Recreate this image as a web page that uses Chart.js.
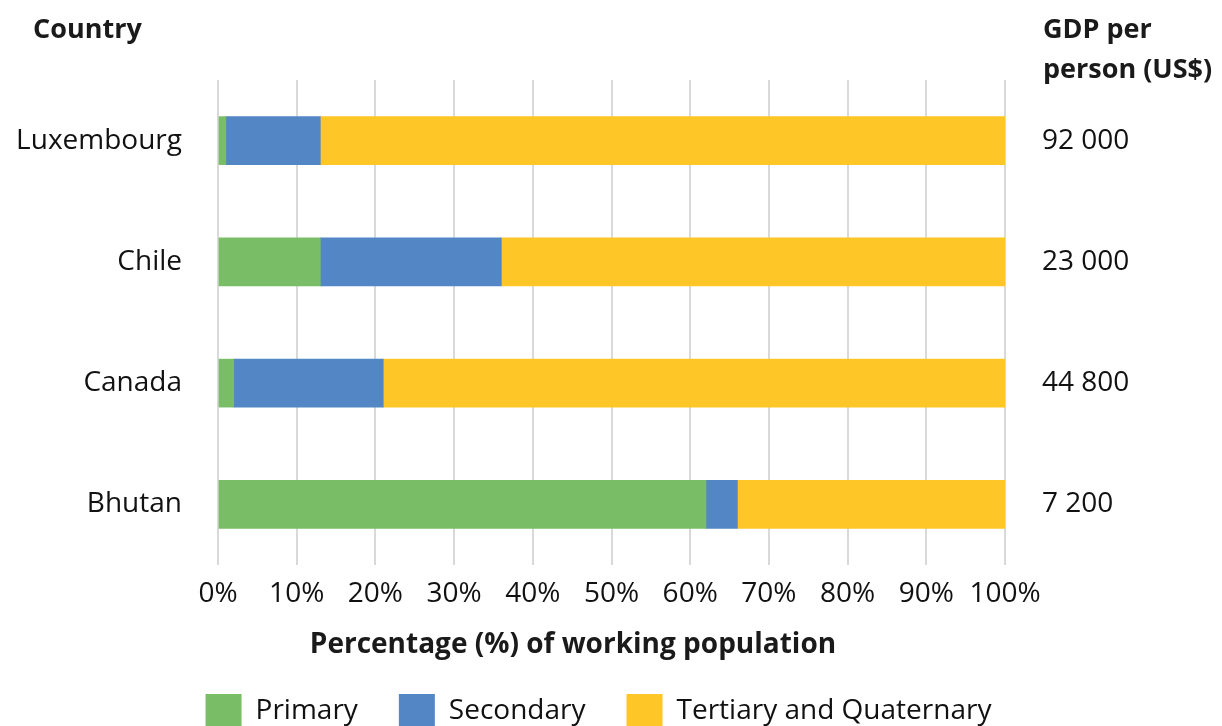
<!DOCTYPE html>
<html lang="en">

<head>
    <meta charset="UTF-8">
    <title>Employment sectors by country</title>
    <script src="https://cdn.jsdelivr.net/npm/chart.js"></script>
    <style>
        html, body { margin: 0; padding: 0; background: #fff; overflow: hidden; }
        body { width: 1222px; height: 726px; position: relative; font-family: "Open Sans", sans-serif; }
        .head { position: absolute; font-weight: bold; font-size: 27px; line-height: 40px; color: #1a1a1a; }
        #country { left: 33px; top: 8px; }
        #gdp { left: 1043px; top: 8px; }
        #titulo-x { left: 0; width: 1146px; top: 622px; text-align: center; font-size: 28px; }
        .box { position: absolute; top: 0; left: 0; width: 1222px; height: 738px; }
    </style>
</head>

<body>
    <div class="box"><canvas id="grafico" width="1222" height="738"></canvas></div>
    <div class="head" id="country">Country</div>
    <div class="head" id="gdp">GDP per<br>person (US$)</div>
    <div class="head" id="titulo-x">Percentage (%) of working population</div>
</body>

<script>
    // dados
    const paises = ['Luxembourg', 'Chile', 'Canada', 'Bhutan'];
    const pib = ['92 000', '23 000', '44 800', '7 200'];
    const primario = [1, 13, 2, 62];
    const secundario = [12, 23, 19, 4];
    const terciario = [87, 64, 79, 34];
    const ticksX = [0, 10, 20, 30, 40, 50, 60, 70, 80, 90, 100];

    const fonte = 'Open Sans';

    var grafico = new Chart(document.getElementById('grafico'), {
        type: 'bar',
        data: {
            labels: paises,
            datasets: [
                { label: 'Primary', data: primario, backgroundColor: '#7abd67' },
                { label: 'Secondary', data: secundario, backgroundColor: '#5286c4' },
                { label: 'Tertiary and Quaternary', data: terciario, backgroundColor: '#ffc628' }
            ]
        },
        options: {
            indexAxis: 'y',
            responsive: false,
            animation: false,
            barThickness: 48,
            layout: { padding: { top: 80, left: 0, right: 25, bottom: 0 } },
            plugins: {
                tooltip: { enabled: false },
                legend: {
                    position: 'bottom',
                    labels: {
                        color: '#111',
                        font: { family: fonte, size: 28 },
                        boxWidth: 36,
                        boxHeight: 34,
                        padding: 41
                    }
                }
            },
            scales: {
                x: {
                    stacked: true,
                    min: 0,
                    max: 100,
                    afterBuildTicks: (s) => { s.ticks = ticksX.map(v => ({ value: v })); },
                    afterFit: (s) => { s.height = 88; },
                    grid: { color: '#d9d9d9', lineWidth: 2, drawTicks: false },
                    border: { display: false },
                    ticks: {
                        color: '#111',
                        padding: 12,
                        font: { family: fonte, size: 28 },
                        callback: (v) => v + '%'
                    }
                },
                y: {
                    stacked: true,
                    afterFit: (s) => { s.width = 218; },
                    grid: { display: false },
                    border: { display: false },
                    ticks: {
                        color: '#111',
                        padding: 28,
                        font: { family: fonte, size: 28 }
                    }
                },
                y2: {
                    type: 'category',
                    position: 'right',
                    labels: pib,
                    afterFit: (s) => { s.width = 192; },
                    grid: { display: false },
                    border: { display: false },
                    ticks: {
                        color: '#111',
                        padding: 29,
                        font: { family: fonte, size: 28 }
                    }
                }
            }
        }
    });
</script>

</html>
